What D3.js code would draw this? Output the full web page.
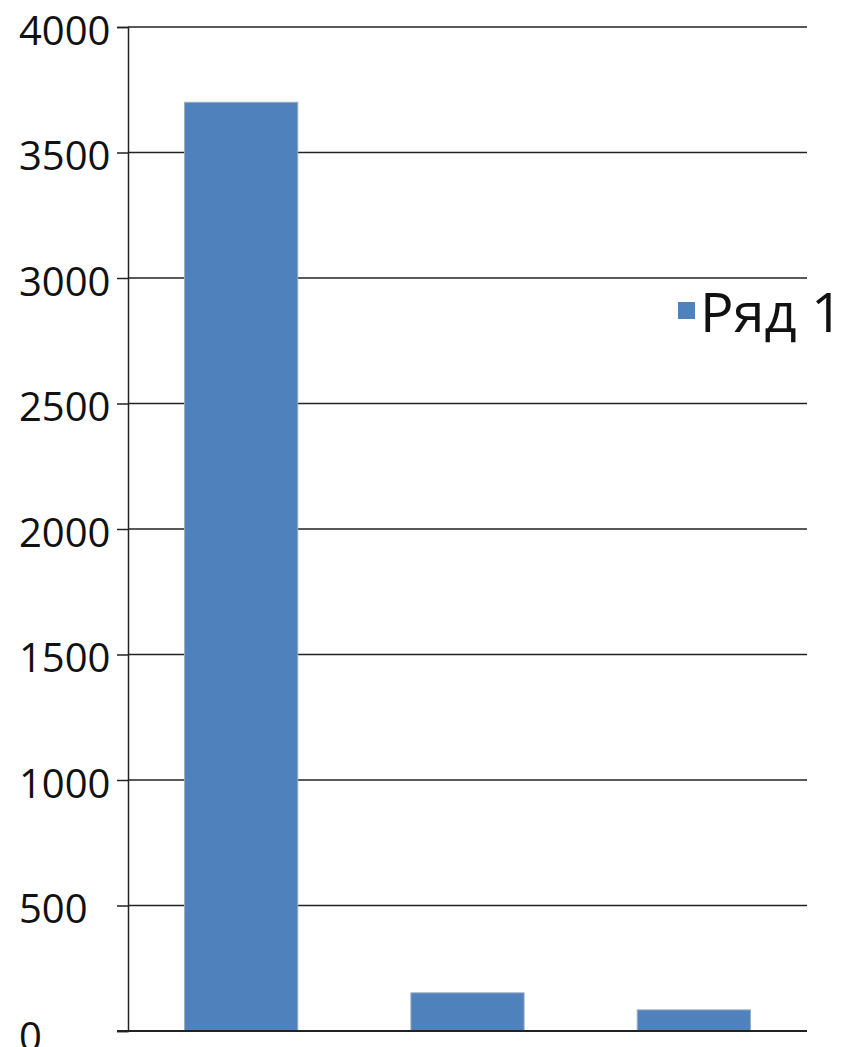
<!DOCTYPE html>
<html><head><meta charset="utf-8">
<script src="https://cdn.jsdelivr.net/npm/d3@7"></script>
<style>html,body{margin:0;padding:0;background:#fff}</style>
</head><body>
<svg id="c" width="846" height="1047"></svg>
<script>
const categories = ["Категория 1", "Категория 2", "Категория 3"];
const values = [3700, 152, 84];
const yTicks = [0, 500, 1000, 1500, 2000, 2500, 3000, 3500, 4000];
const seriesName = "Ряд 1";

(function () {
const svg = d3.select("#c");
const mLeft = 128, mRight = 807, mTop = 27, mBottom = 1031;
const x = d3.scaleBand().domain(categories).range([mLeft, mRight]).paddingInner(0.5).paddingOuter(0.25);
const y = d3.scaleLinear().domain([0, 4000]).range([mBottom, mTop]);
const font = "'Open Sans', sans-serif";

// gridlines
svg.append("g").selectAll("line").data(yTicks.filter(d => d > 0)).join("line")
  .attr("x1", mLeft).attr("x2", mRight)
  .attr("y1", d => y(d)).attr("y2", d => y(d))
  .attr("stroke", "#222").attr("stroke-width", 1.5);

// bars
svg.append("g").selectAll("rect").data(values).join("rect")
  .attr("x", (d, i) => x(categories[i]))
  .attr("width", x.bandwidth())
  .attr("y", d => y(d))
  .attr("height", d => mBottom - y(d))
  .attr("fill", "#4F81BD")
  .attr("stroke", "#9aa9bb").attr("stroke-width", 1);

// y axis
const yAxis = d3.axisLeft(y).tickValues(yTicks).tickFormat(d3.format("d")).tickSize(11).tickPadding(6);
const ga = svg.append("g").attr("transform", `translate(${mLeft},0)`).call(yAxis);
ga.select(".domain").attr("stroke", "#222").attr("stroke-width", 1.5);
ga.selectAll(".tick line").attr("stroke", "#222").attr("stroke-width", 1.5);
ga.selectAll(".tick text").attr("font-family", font).attr("font-size", 40).attr("fill", "#111")
  .attr("text-anchor", "start").attr("x", -109).attr("y", d => d === 0 ? 5 : 3)
  .attr("dy", "0.36em");

// x baseline
svg.append("line").attr("x1", mLeft - 11).attr("x2", mRight)
  .attr("y1", mBottom).attr("y2", mBottom).attr("stroke", "#222").attr("stroke-width", 2);

// legend
const lg = svg.append("g");
lg.append("rect").attr("x", 678).attr("y", 302).attr("width", 17).attr("height", 17).attr("fill", "#4F81BD");
lg.append("text").attr("x", 700).attr("y", 332).attr("font-family", font).attr("font-size", 54)
  .attr("textLength", 143).attr("lengthAdjust", "spacingAndGlyphs")
  .attr("fill", "#111").text(seriesName);
})();
</script>
</body></html>
